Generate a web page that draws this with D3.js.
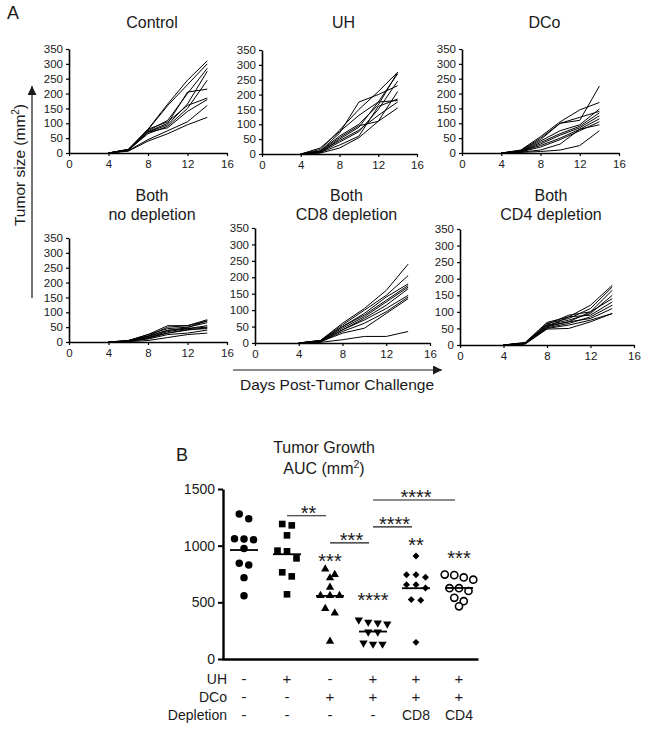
<!DOCTYPE html>
<html><head><meta charset="utf-8">
<script src="https://cdn.jsdelivr.net/npm/d3@7"></script>
<style>
body{margin:0;background:#fff}
svg{display:block}
text{font-family:"Liberation Sans",Arial,Helvetica,sans-serif;fill:#1a1a1a}
</style>
</head><body>
<svg id="c" width="649" height="732"></svg>
<script>
// ---------- DATA ----------
const days = [4, 6, 8, 10, 12, 14];
const dayTicks = [0, 4, 8, 12, 16];
const sizeTicks = [0, 50, 100, 150, 200, 250, 300, 350];

const controlLines = [
  [0,12,80,165,245,310],[0,12,78,160,230,300],[0,10,75,110,200,285],[0,12,72,100,205,215],
  [0,10,70,95,165,275],[0,10,65,90,150,245],[0,10,80,105,160,185],[0,8,70,85,140,180],
  [0,8,45,75,105,160],[0,6,40,65,95,120]
];
const uhLines = [
  [0,10,70,175,200,230],[0,15,80,150,210,275],[0,20,75,130,175,270],[0,10,60,100,165,275],
  [0,5,50,90,175,180],[0,8,45,80,130,175],[0,5,40,75,150,245],[0,5,30,60,160,185],
  [0,3,20,55,110,210],[0,8,55,95,110,155]
];
const dcoLines = [
  [0,8,50,100,110,225],[0,10,55,105,145,170],[0,8,45,100,120,140],[0,6,40,75,95,148],
  [0,5,35,65,90,135],[0,5,30,60,85,125],[0,5,25,50,80,115],[0,4,20,45,75,105],
  [0,3,10,30,80,95],[0,2,5,10,25,75]
];
const bothNoDepLines = [
  [0,5,25,55,55,75],[0,5,20,50,55,70],[0,4,25,45,50,65],[0,3,20,40,45,55],
  [0,3,15,35,45,50],[0,2,15,30,40,48],[0,2,10,25,30,40],[0,1,5,15,25,30],
  [0,3,18,38,48,72],[0,2,12,30,42,45]
];
const bothCD8Lines = [
  [0,8,60,105,160,240],[0,8,55,100,145,205],[0,7,50,90,140,180],[0,6,50,85,130,175],
  [0,6,45,80,125,170],[0,5,40,75,115,165],[0,5,40,70,105,145],[0,4,35,60,95,140],
  [0,4,30,45,90,135],[0,2,10,20,20,35]
];
const bothCD4Lines = [
  [0,8,68,85,120,180],[0,6,65,80,110,175],[0,6,62,90,100,165],[0,5,60,75,95,150],
  [0,5,58,70,100,140],[0,5,55,85,90,130],[0,4,52,65,85,120],[0,4,50,60,75,95],
  [0,3,48,50,70,95],[0,4,55,70,80,110]
];

const groupNames = ["Control", "UH", "DCo", "Both", "Both CD8", "Both CD4"];
const aucControl = [1279, 1238, 1062, 1059, 1053, 974, 844, 829, 718, 559];
const aucUH = [1191, 1179, 1091, 956, 950, 888, 765, 729, 571];
const aucDCo = [794, 744, 715, 632, 559, 559, 559, 444, 406, 156];
const aucBoth = [344, 326, 318, 309, 238, 238, 142, 132, 132];
const aucCD8 = [909, 744, 744, 721, 656, 656, 626, 524, 518, 147];
const aucCD4 = [745, 740, 720, 700, 625, 625, 600, 540, 510, 465];
const aucTicks = [0, 500, 1000, 1500];

const groupStars = ["", "", "***", "****", "**", "***"];
const groupStarLevel = [0, 0, 803, 459, 944, 829];
const comparisons = [
  {from: 1, to: 2, label: "**", level: 1264},
  {from: 2, to: 3, label: "***", level: 1024},
  {from: 3, to: 4, label: "****", level: 1165},
  {from: 3, to: 5, label: "****", level: 1403}
];
const rowUH = ["-", "+", "-", "+", "+", "+"];
const rowDCo = ["-", "-", "+", "+", "+", "+"];
const rowDepletion = ["-", "-", "-", "-", "CD8", "CD4"];

// ---------- DRAW ----------
const svg = d3.select("#c");
const FONT = '"Liberation Sans",Arial,Helvetica,sans-serif';

svg.append("text").attr("x", 7).attr("y", 19).attr("font-size", 18).text("A");
svg.append("text").attr("x", 176).attr("y", 461).attr("font-size", 18).text("B");

const panels = [
  {title: ["Control"], lines: controlLines, x: [69, 227], y: [153, 49], ty: 28},
  {title: ["UH"], lines: uhLines, x: [262, 417], y: [154, 50], ty: 28},
  {title: ["DCo"], lines: dcoLines, x: [462, 619], y: [153, 49], ty: 28},
  {title: ["Both", "no depletion"], lines: bothNoDepLines, x: [69, 227], y: [342, 238], ty: 201},
  {title: ["Both", "CD8 depletion"], lines: bothCD8Lines, x: [255, 430], y: [343, 228], ty: 201},
  {title: ["Both", "CD4 depletion"], lines: bothCD4Lines, x: [460, 634], y: [345, 229], ty: 201}
];

panels.forEach(p => {
  const g = svg.append("g");
  const x = d3.scaleLinear().domain([0, 16]).range(p.x);
  const y = d3.scaleLinear().domain([0, 350]).range(p.y);
  const cx = (p.x[0] + p.x[1]) / 2 + 4;
  p.title.forEach((t, i) => {
    g.append("text").attr("x", cx).attr("y", p.ty + i * 19)
      .attr("text-anchor", "middle").attr("font-size", 16).text(t);
  });
  const line = d3.line().x((d, i) => x(days[i])).y(d => y(d));
  g.selectAll("path.l").data(p.lines).join("path").attr("class", "l")
    .attr("d", line).attr("fill", "none").attr("stroke", "#000").attr("stroke-width", 1);
  const ya = g.append("g").attr("transform", `translate(${p.x[0]},0)`)
    .call(d3.axisLeft(y).tickValues(sizeTicks).tickSize(3).tickSizeOuter(0));
  const xa = g.append("g").attr("transform", `translate(0,${p.y[0]})`)
    .call(d3.axisBottom(x).tickValues(dayTicks).tickSize(3).tickSizeOuter(0));
  [ya, xa].forEach(a => {
    a.selectAll("path").attr("stroke", "#000").attr("stroke-width", 1.6);
    a.selectAll("line").attr("stroke", "#000").attr("stroke-width", 1.2);
    a.selectAll("text").attr("font-size", 11.5).attr("font-family", FONT).attr("fill", "#1a1a1a");
  });
  xa.selectAll("text").attr("dy", "0.75em");
});

// arrows
const defs = svg.append("defs");
defs.append("marker").attr("id", "arr").attr("viewBox", "0 0 10 10").attr("refX", 10).attr("refY", 5)
  .attr("markerWidth", 9).attr("markerHeight", 9).attr("markerUnits", "userSpaceOnUse").attr("orient", "auto")
  .append("path").attr("d", "M0,0 L10,5 L0,10 Z").attr("fill", "#1a1a1a");
svg.append("line").attr("x1", 32).attr("y1", 298).attr("x2", 32).attr("y2", 86)
  .attr("stroke", "#1a1a1a").attr("stroke-width", 1.2).attr("marker-end", "url(#arr)");
svg.append("line").attr("x1", 233).attr("y1", 370).attr("x2", 442).attr("y2", 370)
  .attr("stroke", "#1a1a1a").attr("stroke-width", 1.2).attr("marker-end", "url(#arr)");

const yl = svg.append("text").attr("transform", "translate(25,165) rotate(-90)")
  .attr("text-anchor", "middle").attr("font-size", 15.5);
yl.append("tspan").text("Tumor size (mm");
yl.append("tspan").attr("font-size", 10).attr("dy", -6).text("2");
yl.append("tspan").attr("dy", 6).text(")");
svg.append("text").attr("x", 337).attr("y", 390).attr("text-anchor", "middle")
  .attr("font-size", 15.5).text("Days Post-Tumor Challenge");

// ---------- Panel B ----------
const groupsData = [aucControl, aucUH, aucDCo, aucBoth, aucCD8, aucCD4];
const bx = d3.scalePoint().domain(groupNames).range([244, 459]);
const by = d3.scaleLinear().domain([0, 1500]).range([659, 489]);

svg.append("text").attr("x", 324).attr("y", 453).attr("text-anchor", "middle").attr("font-size", 16).text("Tumor Growth");
const at = svg.append("text").attr("x", 324).attr("y", 474).attr("text-anchor", "middle").attr("font-size", 16);
at.append("tspan").text("AUC (mm");
at.append("tspan").attr("font-size", 10.5).attr("dy", -6).text("2");
at.append("tspan").attr("dy", 6).text(")");

const byAxis = svg.append("g").attr("transform", "translate(223,0)")
  .call(d3.axisLeft(by).tickValues(aucTicks).tickFormat(d3.format("d")).tickSize(5).tickSizeOuter(0));
byAxis.selectAll("text").attr("font-size", 14).attr("font-family", FONT).attr("fill", "#1a1a1a");
byAxis.selectAll("line").attr("stroke", "#000").attr("stroke-width", 2);
byAxis.select("path").attr("stroke", "#000").attr("stroke-width", 2.4);
const bxLin = d3.scaleLinear().domain([0, 1]).range([222, 478]);
svg.append("g").attr("transform", "translate(0,659)")
  .call(d3.axisBottom(bxLin).tickValues([]).tickSizeOuter(0))
  .select("path").attr("stroke", "#000").attr("stroke-width", 2.4);

const symbols = [
  {type: d3.symbolCircle, size: 44, rot: 0, fill: "#000"},
  {type: d3.symbolSquare, size: 44, rot: 0, fill: "#000"},
  {type: d3.symbolTriangle, size: 30, rot: 0, fill: "#000"},
  {type: d3.symbolTriangle, size: 30, rot: 180, fill: "#000"},
  {type: d3.symbolSquare, size: 24, rot: 45, fill: "#000"},
  {type: d3.symbolCircle, size: 40, rot: 0, fill: "#fff", stroke: true}
];

groupsData.forEach((vals, gi) => {
  const name = groupNames[gi];
  const cx = bx(name);
  const sorted = vals.slice().sort((a, b) => b - a);
  // group into rows of nearly equal values and spread them horizontally
  const rows = [];
  sorted.forEach(v => {
    const r = rows[rows.length - 1];
    if (r && Math.abs(by(v) - by(r[0])) < 8) r.push(v); else rows.push([v]);
  });
  const pts = [];
  rows.forEach(r => r.forEach((v, i) => pts.push({v, dx: (i - (r.length - 1) / 2) * 9.5})));
  const s = symbols[gi];
  svg.append("g").selectAll("path").data(pts).join("path")
    .attr("d", d3.symbol().type(s.type).size(s.size))
    .attr("transform", d => `translate(${cx + d.dx},${by(d.v)}) rotate(${s.rot})`)
    .attr("fill", s.fill).attr("stroke", s.stroke ? "#000" : "none").attr("stroke-width", 1.6);
  const m = d3.mean(vals);
  svg.append("line").attr("x1", cx - 14).attr("x2", cx + 14).attr("y1", by(m)).attr("y2", by(m))
    .attr("stroke", "#000").attr("stroke-width", 1.8);
  if (groupStars[gi]) {
    svg.append("text").attr("x", cx).attr("y", by(groupStarLevel[gi]))
      .attr("text-anchor", "middle").attr("font-size", 20).text(groupStars[gi]);
  }
});

comparisons.forEach(c => {
  const x1 = bx(groupNames[c.from]), x2 = bx(groupNames[c.to]);
  svg.append("line").attr("x1", x1).attr("x2", x2 - 4).attr("y1", by(c.level)).attr("y2", by(c.level))
    .attr("stroke", "#1a1a1a").attr("stroke-width", 1.2);
  svg.append("text").attr("x", (x1 + x2) / 2).attr("y", by(c.level) + 4)
    .attr("text-anchor", "middle").attr("font-size", 20).text(c.label);
});

// table
const tableRows = [["UH", rowUH, 684], ["DCo", rowDCo, 702], ["Depletion", rowDepletion, 720]];
tableRows.forEach(([label, vals, yy]) => {
  svg.append("text").attr("x", 227).attr("y", yy).attr("text-anchor", "end").attr("font-size", 14).text(label);
  vals.forEach((v, i) => {
    svg.append("text").attr("x", bx(groupNames[i])).attr("y", yy).attr("text-anchor", "middle")
      .attr("font-size", v.length > 1 ? 14 : 15).text(v);
  });
});
</script>
</body></html>
